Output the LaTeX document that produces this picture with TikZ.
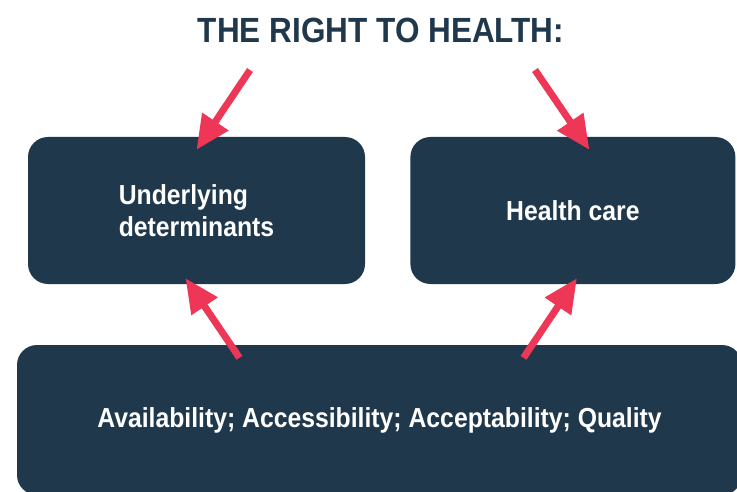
\documentclass[tikz,border=0pt]{standalone}
\usepackage{fontspec}
\usetikzlibrary{arrows.meta, positioning}
\newfontfamily\condfont[FakeStretch=0.9]{Liberation Sans}
\definecolor{rthnavy}{RGB}{31, 56, 76}
\definecolor{rthred}{RGB}{238, 54, 87}
\tikzset{
  box/.style={fill=rthnavy, rounded corners=20pt, text=white, align=left, font=\condfont\bfseries\fontsize{27.5}{32}\selectfont, minimum height=147pt, inner sep=0pt},
  heading/.style={text=rthnavy, font=\condfont\bfseries\fontsize{35}{40}\selectfont, inner sep=0pt},
  arr/.style={-{Triangle[length=34pt, width=30pt]}, line width=7pt, rthred}
}

\begin{document}
\begin{tikzpicture}[x=1pt, y=1pt]
  \useasboundingbox (0,0) rectangle (737,491);
  \node[heading] (title) at (381,461) {THE RIGHT TO HEALTH:};
  \node[box, minimum width=337pt] (under) at (196.5,280.5) {Underlying\\determinants};
  \node[box, minimum width=325pt, right=45pt of under] (care) {Health care};
  \node[box, minimum width=725pt, minimum height=150pt] (aaaq) at (379.5,71) {Availability; Accessibility; Acceptability; Quality};
  \coordinate (tl) at (250,421);
  \coordinate (tr) at (535,421);
  \draw[arr] (tl) -- ([yshift=-13pt]under.north);
  \draw[arr] (tr) -- ([xshift=16.5pt, yshift=-13pt]care.north);
  \draw[arr] ([xshift=-140pt, yshift=-13pt]aaaq.north) -- ([xshift=-11pt, yshift=6pt]under.south);
  \draw[arr] ([xshift=144pt, yshift=-13pt]aaaq.north) -- ([xshift=4pt, yshift=6pt]care.south);
\end{tikzpicture}
\end{document}
